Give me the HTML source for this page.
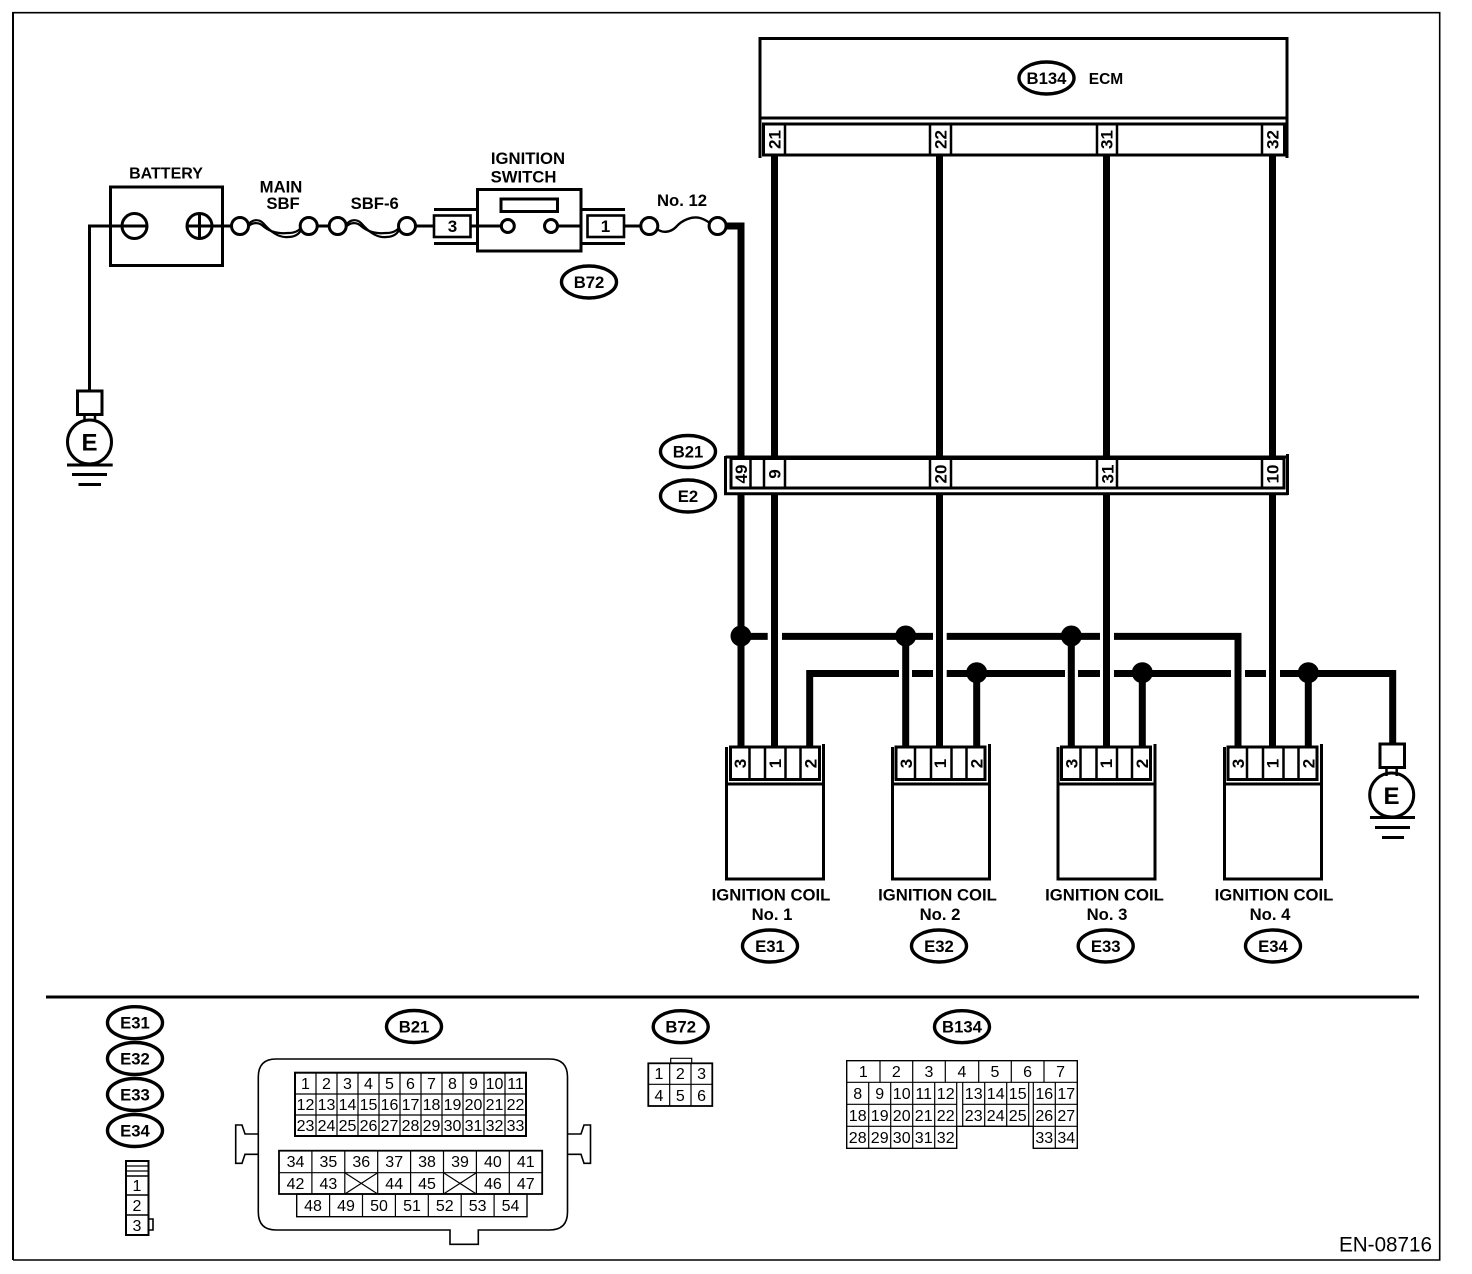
<!DOCTYPE html>
<html><head><meta charset="utf-8"><title>Ignition coil wiring diagram</title>
<style>
html,body{margin:0;padding:0;background:#fff}
svg{display:block}
text{font-family:"Liberation Sans",sans-serif;fill:#000}
.b{font-weight:bold;font-size:16.7px;text-anchor:middle}
.p{font-weight:bold;font-size:17px;text-anchor:middle}
.n{font-size:16px;text-anchor:middle}
.s{fill:none;stroke:#000;stroke-width:3}
.t{fill:#fff;stroke:#000;stroke-width:2.5}
.w{fill:none;stroke:#000;stroke-width:7;stroke-linejoin:miter}
.l{fill:none;stroke:#000;stroke-width:1.6}
.g{fill:none;stroke:#000;stroke-width:1.2}
.o{fill:#fff;stroke:#000;stroke-width:3.4}
</style></head><body>
<svg width="1472" height="1274" viewBox="0 0 1472 1274" xmlns="http://www.w3.org/2000/svg">
<rect width="1472" height="1274" fill="#fff"/>
<!-- border -->
<path d="M13,1260 V12.7 H1439.7 V1260 H13" fill="none" stroke="#000" stroke-width="1.6"/>
<line x1="13" y1="12" x2="13" y2="1260" stroke="#000" stroke-width="2"/>

<!-- wires -->
<path class="w" d="M726,226 H741 V746"/>
<path class="w" d="M774.5,155 V746 M939.5,155 V746 M1106.5,155 V746 M1272.5,155 V746"/>
<path class="w" d="M741,636.4 H767.7 M782,636.4 H933 M946.7,636.4 H1100 M1114,636.4 H1238 V746"/>
<path class="w" d="M809.7,746 V673.5 H899 M912,673.5 H933 M946.7,673.5 H1065 M1078,673.5 H1100 M1114,673.5 H1231 M1245,673.5 H1266 M1280,673.5 H1392.7 V744"/>
<path class="w" d="M905.7,636 V746 M976.7,673 V746 M1071.3,636 V746 M1142.3,673 V746 M1308.3,673 V746"/>
<circle cx="741" cy="636" r="10.5"/><circle cx="905.7" cy="636" r="10.5"/><circle cx="1071.3" cy="636" r="10.5"/>
<circle cx="976.7" cy="672.7" r="10.5"/><circle cx="1142.3" cy="672.7" r="10.5"/><circle cx="1308.3" cy="672.7" r="10.5"/>

<!-- ECM -->
<rect class="s" x="760" y="38.5" width="527" height="79.5"/>
<path class="s" d="M760,118 V158 M1287,118 V158"/>
<rect class="o" style="stroke-width:3" x="763.5" y="124" width="521" height="31"/>
<path class="t" d="M785,124 V155 M930,124 V155 M951,124 V155 M1097,124 V155 M1117,124 V155 M1262,124 V155"/>
<text class="p" transform="translate(780.5,139.5) rotate(-90)">21</text>
<text class="p" transform="translate(946.5,139.5) rotate(-90)">22</text>
<text class="p" transform="translate(1112.5,139.5) rotate(-90)">31</text>
<text class="p" transform="translate(1278.5,139.5) rotate(-90)">32</text>
<ellipse class="o" cx="1046.5" cy="78" rx="27.5" ry="16"/>
<text class="b" x="1046.5" y="84">B134</text>
<text class="b" style="font-size:15.5px" x="1106" y="84">ECM</text>

<!-- Mid connector B21/E2 -->
<rect x="725" y="457" width="562" height="37" fill="#fff"/>
<path class="s" d="M725.5,457 H1286 M725.5,456 V495 M1287.5,454 V495 M724,493.7 H1288"/>
<rect class="s" style="fill:#fff" x="731" y="458.5" width="553" height="29.5"/>
<path class="t" d="M750.5,459 V488 M764,459 V488 M785,459 V488 M930,459 V488 M951,459 V488 M1097,459 V488 M1117,459 V488 M1262,459 V488"/>
<text class="p" transform="translate(747,474) rotate(-90)">49</text>
<text class="p" transform="translate(780.5,474) rotate(-90)">9</text>
<text class="p" transform="translate(946.5,474) rotate(-90)">20</text>
<text class="p" transform="translate(1113.5,474) rotate(-90)">31</text>
<text class="p" transform="translate(1278.5,474) rotate(-90)">10</text>
<ellipse class="o" cx="688" cy="451.5" rx="27.5" ry="16"/><text class="b" x="688" y="457.5">B21</text>
<ellipse class="o" cx="688" cy="496" rx="27.5" ry="16"/><text class="b" x="688" y="502">E2</text>

<!-- Coils -->
<g transform="translate(725,0)">
<path class="s" d="M1.5,747 V879 H98.5 V744 M1.5,784 H98.5"/>
<rect class="s" style="fill:#fff" x="5.5" y="747" width="89" height="32.5"/>
<path class="t" d="M24.5,747 V779 M40,747 V779 M60.5,747 V779 M75.5,747 V779"/>
<text class="p" transform="translate(21,763.5) rotate(-90)">3</text>
<text class="p" transform="translate(56,763.5) rotate(-90)">1</text>
<text class="p" transform="translate(91.5,763.5) rotate(-90)">2</text>
</g>
<g transform="translate(891,0)">
<path class="s" d="M1.5,747 V879 H98.5 V744 M1.5,784 H98.5"/>
<rect class="s" style="fill:#fff" x="5" y="747" width="89" height="32.5"/>
<path class="t" d="M24,747 V779 M40,747 V779 M60.5,747 V779 M75.5,747 V779"/>
<text class="p" transform="translate(21,763.5) rotate(-90)">3</text>
<text class="p" transform="translate(55,763.5) rotate(-90)">1</text>
<text class="p" transform="translate(91.5,763.5) rotate(-90)">2</text>
</g>
<g transform="translate(1056.5,0)">
<path class="s" d="M1.5,747 V879 H98.5 V744 M1.5,784 H98.5"/>
<rect class="s" style="fill:#fff" x="5" y="747" width="89" height="32.5"/>
<path class="t" d="M24,747 V779 M40,747 V779 M60.5,747 V779 M75.5,747 V779"/>
<text class="p" transform="translate(21,763.5) rotate(-90)">3</text>
<text class="p" transform="translate(55.5,763.5) rotate(-90)">1</text>
<text class="p" transform="translate(91.5,763.5) rotate(-90)">2</text>
</g>
<g transform="translate(1223,0)">
<path class="s" d="M1.5,747 V879 H98.5 V744 M1.5,784 H98.5"/>
<rect class="s" style="fill:#fff" x="5" y="747" width="89" height="32.5"/>
<path class="t" d="M24,747 V779 M40,747 V779 M60.5,747 V779 M75.5,747 V779"/>
<text class="p" transform="translate(21,763.5) rotate(-90)">3</text>
<text class="p" transform="translate(55.5,763.5) rotate(-90)">1</text>
<text class="p" transform="translate(91.5,763.5) rotate(-90)">2</text>
</g>
<text class="b" x="771" y="900.7">IGNITION COIL</text><text class="b" x="772" y="920">No. 1</text>
<text class="b" x="937.5" y="900.7">IGNITION COIL</text><text class="b" x="940" y="920">No. 2</text>
<text class="b" x="1104.5" y="900.7">IGNITION COIL</text><text class="b" x="1107" y="920">No. 3</text>
<text class="b" x="1274" y="900.7">IGNITION COIL</text><text class="b" x="1270" y="920">No. 4</text>
<ellipse class="o" cx="770" cy="946" rx="27.5" ry="16"/><text class="b" x="770" y="952">E31</text>
<ellipse class="o" cx="939" cy="946" rx="27.5" ry="16"/><text class="b" x="939" y="952">E32</text>
<ellipse class="o" cx="1105.7" cy="946" rx="27.5" ry="16"/><text class="b" x="1105.7" y="952">E33</text>
<ellipse class="o" cx="1273" cy="946" rx="27.5" ry="16"/><text class="b" x="1273" y="952">E34</text>

<!-- Right ground -->
<rect class="s" x="1380" y="744" width="24.5" height="23.5"/>
<path class="s" style="stroke-width:2.5" d="M1386.5,768 V776 M1396.7,768 V776"/>
<circle class="s" cx="1391.7" cy="795" r="22"/>
<text x="1391.5" y="804" style="font-weight:bold;font-size:24px;text-anchor:middle">E</text>
<path class="s" d="M1370,817.5 H1415 M1375,827.5 H1410 M1382,837.5 H1404"/>

<!-- Left ground -->
<path class="s" d="M89.5,390 V226 H122"/>
<rect class="s" x="77.5" y="391" width="24.5" height="23.5"/>
<path class="s" style="stroke-width:2.5" d="M84.5,414 V422 M95,414 V422"/>
<circle class="s" cx="89.5" cy="442" r="22"/>
<text x="89.5" y="450.5" style="font-weight:bold;font-size:24px;text-anchor:middle">E</text>
<path class="s" d="M67,465 H112.7 M72,474.5 H107 M78.5,484.5 H101"/>

<!-- Battery -->
<rect class="s" x="110.5" y="187" width="112" height="78.5"/>
<circle class="s" cx="134.5" cy="226" r="12.5"/>
<path class="s" d="M122,226 H147"/>
<circle class="s" cx="199.5" cy="226" r="12.5"/>
<path class="s" d="M187,226 H212 M199.5,213.5 V238.5"/>
<path class="s" d="M212,226 H231"/>
<text class="b" style="font-size:16px" x="166" y="178.5">BATTERY</text>

<!-- Main SBF -->
<circle class="s" cx="240" cy="226" r="8.5"/><circle class="s" cx="308.7" cy="226" r="8.5"/>
<path class="l" style="stroke-width:2.2" d="M248,225 C252,219 259,219 263,223 C270,231 278,238 288,237 C295,237 299,234 301,230"/>
<path class="l" style="stroke-width:2.2" d="M248,227 C252,222 259,222 263,226 C270,232 278,234 288,233 C295,233 298,231 301,228"/>
<text class="b" x="281" y="192.7">MAIN</text><text class="b" x="283" y="209">SBF</text>
<path class="s" d="M317,226 H329"/>
<!-- SBF-6 -->
<circle class="s" cx="337.7" cy="226" r="8.5"/><circle class="s" cx="407" cy="226" r="8.5"/>
<path class="l" style="stroke-width:2.2" d="M346,225 C350,219 357,219 361,223 C368,231 376,238 386,237 C393,237 397,234 399,230"/>
<path class="l" style="stroke-width:2.2" d="M346,227 C350,222 357,222 361,226 C368,232 376,234 386,233 C393,233 396,231 399,228"/>
<text class="b" x="374.7" y="209">SBF-6</text>
<path class="s" d="M415,226 H433"/>

<!-- Ignition switch -->
<path class="s" d="M434,209.5 H477 M434,243.5 H477 M581,209.5 H625 M581,243.5 H625"/>
<rect class="s" style="stroke-width:2.6" x="434" y="215.5" width="36.5" height="21.5"/>
<text class="p" x="452.5" y="232">3</text>
<rect class="s" x="477.5" y="189.5" width="103.5" height="61.5"/>
<rect class="s" x="501" y="199" width="56.5" height="12.5"/>
<circle class="s" cx="507.8" cy="226" r="6.5"/><circle class="s" cx="551" cy="226" r="6.5"/>
<path class="s" d="M470.5,226 H501 M557.5,226 H581"/>
<rect class="s" style="stroke-width:2.6" x="587.5" y="215.5" width="36.5" height="21.5"/>
<text class="p" x="605.5" y="232">1</text>
<path class="s" d="M624,226 H641"/>
<text class="b" x="528" y="164">IGNITION</text><text class="b" x="523.5" y="182.7">SWITCH</text>
<circle class="s" cx="649.3" cy="226" r="8.5"/><circle class="s" cx="717.6" cy="226" r="8.5"/>
<path class="l" style="stroke-width:2.4" d="M657,229 C662,233 670,233 676,227 C682,220 692,216 700,218 C704,219 707,221 710,223"/>
<text class="b" x="682" y="206">No. 12</text>
<ellipse class="o" cx="589" cy="282" rx="27.5" ry="16"/><text class="b" x="589" y="288">B72</text>

<!-- divider -->
<line x1="46" y1="997" x2="1419" y2="997" stroke="#000" stroke-width="3"/>
<!-- bottom ellipses -->
<ellipse class="o" cx="135" cy="1022.7" rx="27.5" ry="16"/><text class="b" x="135" y="1028.7">E31</text>
<ellipse class="o" cx="135" cy="1058.5" rx="27.5" ry="16"/><text class="b" x="135" y="1064.5">E32</text>
<ellipse class="o" cx="135" cy="1094.5" rx="27.5" ry="16"/><text class="b" x="135" y="1100.5">E33</text>
<ellipse class="o" cx="135" cy="1130.5" rx="27.5" ry="16"/><text class="b" x="135" y="1136.5">E34</text>
<ellipse class="o" cx="414" cy="1026.5" rx="27.5" ry="16"/><text class="b" x="414" y="1032.5">B21</text>
<ellipse class="o" cx="680.7" cy="1026.7" rx="27.5" ry="16"/><text class="b" x="680.7" y="1032.7">B72</text>
<ellipse class="o" cx="962" cy="1026.7" rx="27.5" ry="16"/><text class="b" x="962" y="1032.7">B134</text>

<!-- small connector -->
<rect class="l" style="stroke-width:2" x="126" y="1161" width="22.5" height="74"/>
<path class="g" d="M126,1166 H148 M126,1171 H148"/>
<path class="l" d="M126,1176 H148 M126,1195 H148 M126,1215 H148"/>
<path class="g" style="stroke-width:1.6" d="M148.5,1219 H153 V1230 H148.5"/>
<text class="n" x="137" y="1191">1</text><text class="n" x="137" y="1211">2</text><text class="n" x="137" y="1231">3</text>

<!-- B21 housing -->
<path class="l" d="M276,1059 H549.5 Q567.5,1059 567.5,1077 V1212 Q567.5,1230 549.5,1230 H478.3 V1244.3 H450 V1230 H276 Q258.3,1230 258.3,1212 V1077 Q258.3,1059 276,1059 Z"/>
<path class="l" d="M258.3,1134 H245 L242,1125 H235.7 V1163.3 H242 L245,1154.3 H258.3"/>
<path class="l" d="M567.5,1134 H581 L584,1125 H590.5 V1163.3 H584 L581,1154.3 H567.5"/>
<rect class="l" style="stroke-width:2" x="295" y="1072.7" width="231" height="63.3"/>
<path class="g" d="M295,1094 H526 M295,1115 H526 M316,1072.7 V1136 M337,1072.7 V1136 M358,1072.7 V1136 M379,1072.7 V1136 M400,1072.7 V1136 M421,1072.7 V1136 M442,1072.7 V1136 M463,1072.7 V1136 M484,1072.7 V1136 M505,1072.7 V1136"/>
<g class="n">
<text class="n" x="305.5" y="1089">1</text><text class="n" x="326.5" y="1089">2</text><text class="n" x="347.5" y="1089">3</text><text class="n" x="368.5" y="1089">4</text><text class="n" x="389.5" y="1089">5</text><text class="n" x="410.5" y="1089">6</text><text class="n" x="431.5" y="1089">7</text><text class="n" x="452.5" y="1089">8</text><text class="n" x="473.5" y="1089">9</text><text class="n" x="494.5" y="1089">10</text><text class="n" x="515.5" y="1089">11</text>
<text class="n" x="305.5" y="1110">12</text><text class="n" x="326.5" y="1110">13</text><text class="n" x="347.5" y="1110">14</text><text class="n" x="368.5" y="1110">15</text><text class="n" x="389.5" y="1110">16</text><text class="n" x="410.5" y="1110">17</text><text class="n" x="431.5" y="1110">18</text><text class="n" x="452.5" y="1110">19</text><text class="n" x="473.5" y="1110">20</text><text class="n" x="494.5" y="1110">21</text><text class="n" x="515.5" y="1110">22</text>
<text class="n" x="305.5" y="1131">23</text><text class="n" x="326.5" y="1131">24</text><text class="n" x="347.5" y="1131">25</text><text class="n" x="368.5" y="1131">26</text><text class="n" x="389.5" y="1131">27</text><text class="n" x="410.5" y="1131">28</text><text class="n" x="431.5" y="1131">29</text><text class="n" x="452.5" y="1131">30</text><text class="n" x="473.5" y="1131">31</text><text class="n" x="494.5" y="1131">32</text><text class="n" x="515.5" y="1131">33</text>
</g>
<rect class="l" style="stroke-width:1.8" x="279" y="1150.7" width="263.2" height="43.3"/>
<path class="g" d="M279,1172.7 H542.2 M311.9,1150.7 V1194 M344.8,1150.7 V1194 M377.7,1150.7 V1194 M410.6,1150.7 V1194 M443.5,1150.7 V1194 M476.4,1150.7 V1194 M509.3,1150.7 V1194"/>
<path class="g" d="M344.8,1172.7 L377.7,1194 M377.7,1172.7 L344.8,1194 M443.5,1172.7 L476.4,1194 M476.4,1172.7 L443.5,1194"/>
<rect class="l" style="stroke-width:1.4" x="296.7" y="1194" width="230.3" height="22.7"/>
<path class="g" d="M329.6,1194 V1216.7 M362.5,1194 V1216.7 M395.4,1194 V1216.7 M428.3,1194 V1216.7 M461.2,1194 V1216.7 M494.1,1194 V1216.7"/>
<text class="n" x="295.5" y="1167">34</text><text class="n" x="328.4" y="1167">35</text><text class="n" x="361.3" y="1167">36</text><text class="n" x="394.2" y="1167">37</text><text class="n" x="427" y="1167">38</text><text class="n" x="460" y="1167">39</text><text class="n" x="492.9" y="1167">40</text><text class="n" x="525.8" y="1167">41</text>
<text class="n" x="295.5" y="1189">42</text><text class="n" x="328.4" y="1189">43</text><text class="n" x="394.2" y="1189">44</text><text class="n" x="427" y="1189">45</text><text class="n" x="492.9" y="1189">46</text><text class="n" x="525.8" y="1189">47</text>
<text class="n" x="313" y="1211">48</text><text class="n" x="346" y="1211">49</text><text class="n" x="379" y="1211">50</text><text class="n" x="412" y="1211">51</text><text class="n" x="444.8" y="1211">52</text><text class="n" x="477.6" y="1211">53</text><text class="n" x="510.5" y="1211">54</text>

<!-- B72 connector -->
<path class="g" d="M670.7,1063 V1058.3 H691.7 V1063"/>
<rect class="l" style="stroke-width:1.8" x="648.3" y="1063.3" width="64" height="42.7"/>
<path class="g" d="M648.3,1084.3 H712.3 M669.7,1063.3 V1106 M691,1063.3 V1106"/>
<text class="n" x="659" y="1079">1</text><text class="n" x="680.3" y="1079">2</text><text class="n" x="701.6" y="1079">3</text>
<text class="n" x="659" y="1101">4</text><text class="n" x="680.3" y="1101">5</text><text class="n" x="701.6" y="1101">6</text>

<!-- B134 connector -->
<path class="l" style="stroke-width:1.4" d="M846.7,1060.7 H1077.3 V1148.3 H1033.3 V1126.3 H956.7 V1148.3 H846.7 Z"/>
<path class="g" d="M846.7,1082.3 H1077.3 M846.7,1104.3 H956.7 M962.7,1104.3 H1028.7 M1033.3,1104.3 H1077.3 M846.7,1126.3 H956.7 M962.7,1126.3 H1028.7 M1033.3,1126.3 H1077.3"/>
<path class="g" d="M880,1060.7 V1082.3 M912.7,1060.7 V1082.3 M945.3,1060.7 V1082.3 M978.7,1060.7 V1082.3 M1011.3,1060.7 V1082.3 M1044,1060.7 V1082.3"/>
<path class="g" d="M868.7,1082.3 V1148.3 M890.7,1082.3 V1148.3 M912.7,1082.3 V1148.3 M934.7,1082.3 V1148.3 M956.7,1082.3 V1126.3 M962.7,1082.3 V1126.3 M984.7,1082.3 V1126.3 M1006.7,1082.3 V1126.3 M1028.7,1082.3 V1126.3 M1033.3,1082.3 V1148.3 M1055.3,1082.3 V1148.3"/>
<text class="n" x="863.3" y="1077">1</text><text class="n" x="896.3" y="1077">2</text><text class="n" x="929" y="1077">3</text><text class="n" x="962" y="1077">4</text><text class="n" x="995" y="1077">5</text><text class="n" x="1027.6" y="1077">6</text><text class="n" x="1060.6" y="1077">7</text>
<text class="n" x="857.7" y="1099">8</text><text class="n" x="879.7" y="1099">9</text><text class="n" x="901.7" y="1099">10</text><text class="n" x="923.7" y="1099">11</text><text class="n" x="945.7" y="1099">12</text><text class="n" x="973.7" y="1099">13</text><text class="n" x="995.7" y="1099">14</text><text class="n" x="1017.7" y="1099">15</text><text class="n" x="1044.3" y="1099">16</text><text class="n" x="1066.3" y="1099">17</text>
<text class="n" x="857.7" y="1121">18</text><text class="n" x="879.7" y="1121">19</text><text class="n" x="901.7" y="1121">20</text><text class="n" x="923.7" y="1121">21</text><text class="n" x="945.7" y="1121">22</text><text class="n" x="973.7" y="1121">23</text><text class="n" x="995.7" y="1121">24</text><text class="n" x="1017.7" y="1121">25</text><text class="n" x="1044.3" y="1121">26</text><text class="n" x="1066.3" y="1121">27</text>
<text class="n" x="857.7" y="1143">28</text><text class="n" x="879.7" y="1143">29</text><text class="n" x="901.7" y="1143">30</text><text class="n" x="923.7" y="1143">31</text><text class="n" x="945.7" y="1143">32</text><text class="n" x="1044.3" y="1143">33</text><text class="n" x="1066.3" y="1143">34</text>

<text x="1432" y="1251.7" textLength="93" lengthAdjust="spacingAndGlyphs" style="font-size:21.5px;text-anchor:end">EN-08716</text>
</svg>
</body></html>
